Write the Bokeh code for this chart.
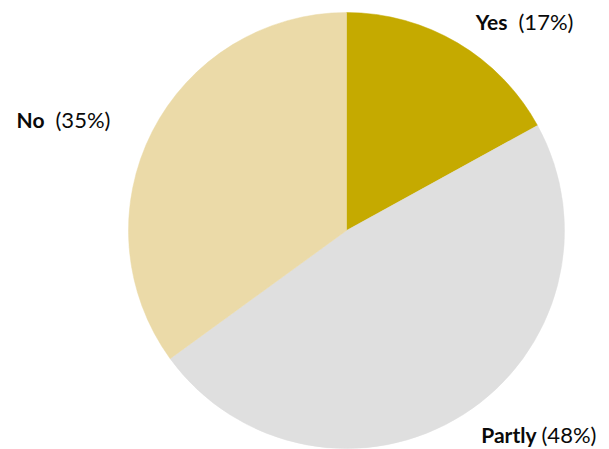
import numpy as np
from bokeh.plotting import figure
from bokeh.models import ColumnDataSource, Range1d
from bokeh.core.properties import value
from bokeh.embed import file_html
from bokeh.resources import INLINE

# data
categories = ["Yes", "Partly", "No"]
values = [17, 48, 35]
colors = ["#C5AA00", "#DFDFDF", "#EBDAA8"]

W, H = 609, 449
cx, cy, R = 346, H - 230, 218

fracs = np.array(values, dtype=float) / sum(values)
ends_cum = np.cumsum(fracs)
starts_cum = ends_cum - fracs
start_angle = np.pi / 2 - starts_cum * 2 * np.pi
end_angle = np.pi / 2 - ends_cum * 2 * np.pi

src = ColumnDataSource(dict(cat=categories, val=values, color=colors,
                            start=start_angle, end=end_angle,
                            x=[cx] * 3, y=[cy] * 3))

p = figure(width=W, height=H, output_backend="svg", toolbar_location=None,
           x_range=Range1d(0, W), y_range=Range1d(0, H), min_border=0)
p.axis.visible = False
p.grid.visible = False
p.outline_line_color = None
p.background_fill_color = "white"
p.border_fill_color = "white"

p.wedge(x="x", y="y", radius=R, start_angle="start", end_angle="end",
        direction="clock", fill_color="color", line_color="color",
        line_width=0.5, source=src)

# label layout: (name right edge, percent left edge, text middle), page pixels
split = {"Yes": (507, 518, 21), "Partly": (536, 541, 434), "No": (44, 55, 119)}
nx, ny, px, pt = [], [], [], []
for c, v in zip(categories, values):
    a, b, yy = split[c]
    nx.append(a)
    px.append(b)
    ny.append(H - yy)
    pt.append(f"({v}%)")

p.text(x=nx, y=ny, text=categories, text_align="right", text_baseline="middle",
       text_font=value("Lato"), text_font_style="bold",
       text_font_size="21px", text_color="#0a0a0a")
p.text(x=px, y=ny, text=pt, text_align="left", text_baseline="middle",
       text_font=value("Lato"), text_font_size="22px", text_color="#0a0a0a")

open("out.html", "w").write(file_html(p, INLINE))
